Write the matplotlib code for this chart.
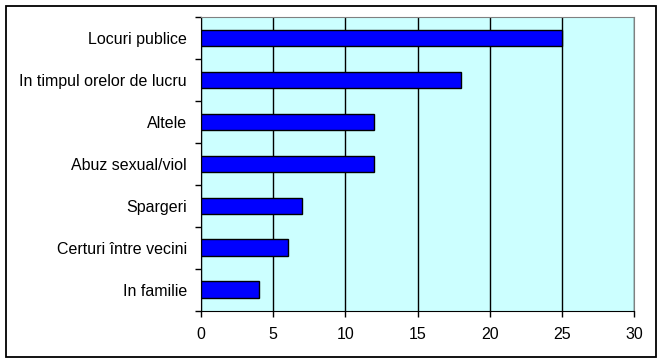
import matplotlib.pyplot as plt
from matplotlib.patches import Rectangle

categories = ['Locuri publice', 'In timpul orelor de lucru', 'Altele',
              'Abuz sexual/viol', 'Spargeri', 'Certuri între vecini', 'In familie']
values = [25, 18, 12, 12, 7, 6, 4]
xticks = [0, 5, 10, 15, 20, 25, 30]

plt.rcParams['font.family'] = ['Liberation Sans', 'DejaVu Sans']

W, H = 663, 363
fig = plt.figure(figsize=(W / 100, H / 100), dpi=100)
ax = fig.add_axes([201 / W, 1 - 310.5 / H, 433 / W, 293.5 / H])
ax.set_facecolor('#CCFFFF')

ypos = list(range(len(categories)))[::-1]
ax.barh(ypos, values, height=0.39, color='#0000FF', edgecolor='black', linewidth=1, zorder=3)

ax.set_xlim(0, 30)
ax.set_ylim(-0.5, len(categories) - 0.5)
ax.set_xticks(xticks)
ax.set_xticklabels([str(t) for t in xticks], fontsize=11.5)
ax.set_yticks(ypos)
ax.set_yticklabels(categories, fontsize=11.5)
ax.set_yticks([y - 0.5 for y in range(len(categories) + 1)], minor=True)
ax.tick_params(axis='y', which='major', length=0, pad=10)
ax.tick_params(axis='y', which='minor', length=4, width=1, color='black')
ax.tick_params(axis='x', length=4, width=1, pad=8)
ax.xaxis.grid(True, color='black', linewidth=1, zorder=1)
ax.set_axisbelow(True)

for side in ['top', 'right']:
    ax.spines[side].set_color('#808080')
for side in ['left', 'bottom']:
    ax.spines[side].set_color('black')

fig.patches.append(Rectangle((6 / W, 1 - 357 / H), 650 / W, 351 / H, transform=fig.transFigure,
                             fill=False, edgecolor='black', linewidth=1.3))

fig.savefig('out.png', dpi=100)
